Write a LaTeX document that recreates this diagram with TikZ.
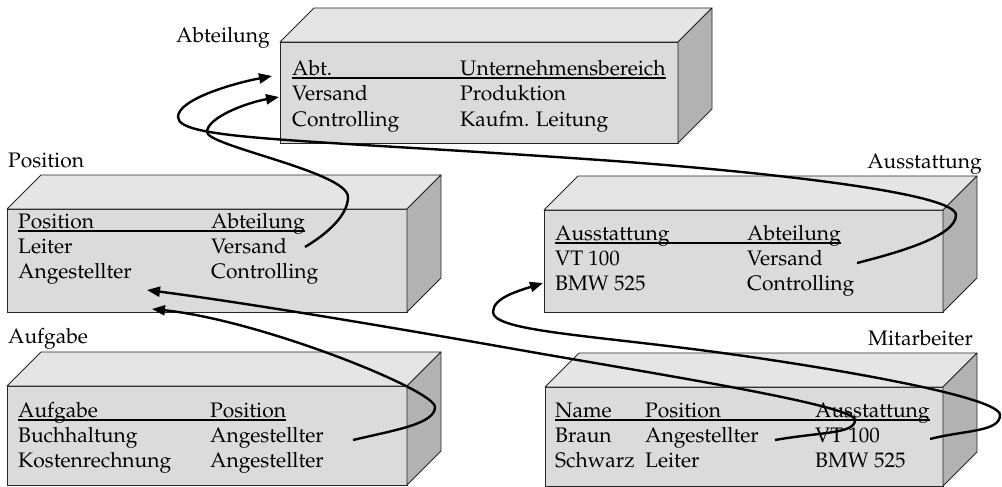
\documentclass[tikz,border=0pt]{standalone}
\usepackage[T1]{fontenc}
\usepackage{mathpazo}
\usetikzlibrary{arrows.meta}

\definecolor{vorn}{gray}{0.86}
\definecolor{deckel}{gray}{0.90}
\definecolor{flanke}{gray}{0.70}

\tikzset{
  vorne/.style={draw=black!85, line width=0.9pt, fill=vorn, anchor=north west, inner sep=0pt, outer sep=0pt},
  oben/.style={draw=black!85, line width=0.9pt, fill=deckel, line join=round},
  seite/.style={draw=black!85, line width=0.9pt, fill=flanke, line join=round},
  zelle/.style={anchor=base west, inner sep=0pt, font=\fontsize{21}{25}\selectfont},
  titel/.style={inner sep=0pt, font=\fontsize{21}{25}\selectfont},
  strich/.style={line width=2pt},
  pfeil/.style={line width=2.4pt, -{Triangle[length=13pt,width=10pt]}}
}

% Quader: Name, x, y (oben links vorne), Breite, Hoehe
\newcommand{\quader}[5]{%
  \node[vorne, minimum width=#4pt, minimum height=#5pt] (#1) at (#2,#3) {};
  \filldraw[oben] (#1.north west) -- ++(34,-34) -- ++(#4,0) -- (#1.north east) -- cycle;
  \filldraw[seite] (#1.north east) -- ++(34,-34) -- ++(0,#5) -- (#1.south east) -- cycle;
}

\begin{document}
\begin{tikzpicture}[x=1pt, y=-1pt]
\useasboundingbox (0,0) rectangle (1002,487);

% Abteilung
\quader{abt}{280}{42}{398}{101}
\node[titel, anchor=base east] (abtT) at (270,43) {Abteilung};
\node[zelle] (abt0) at (292,76) {Abt.};
\node[zelle] (abt1) at (460,76) {Unternehmensbereich};
\node[zelle] (abt2) at (292,101) {Versand};
\node[zelle] (abt3) at (460,101) {Produktion};
\node[zelle] (abt4) at (292,126) {Controlling};
\node[zelle] (abt5) at (460,126) {Kaufm. Leitung};
\draw[strich] ([yshift=-2.5pt]abt0.base west) -- ([yshift=-2.5pt]abt1.base east);

% Position
\quader{pos}{7}{209}{400}{103}
\node[titel, anchor=base west] (posT) at (8,167) {Position};
\node[zelle] (pos0) at (18,228) {Position};
\node[zelle] (pos1) at (211,228) {Abteilung};
\node[zelle] (pos2) at (18,253) {Leiter};
\node[zelle] (pos3) at (211,253) {Versand};
\node[zelle] (pos4) at (18,278) {Angestellter};
\node[zelle] (pos5) at (211,278) {Controlling};
\draw[strich] ([yshift=-2.5pt]pos0.base west) -- ([yshift=-2.5pt]pos1.base east);

% Ausstattung
\quader{aus}{544}{210}{399}{102}
\node[titel, anchor=base east] (ausT) at (982,168) {Ausstattung};
\node[zelle] (aus0) at (555,240) {Ausstattung};
\node[zelle] (aus1) at (747,240) {Abteilung};
\node[zelle] (aus2) at (555,265) {VT 100};
\node[zelle] (aus3) at (747,265) {Versand};
\node[zelle] (aus4) at (555,290) {BMW 525};
\node[zelle] (aus5) at (747,290) {Controlling};
\draw[strich] ([yshift=-2.5pt]aus0.base west) -- ([yshift=-2.5pt]aus1.base east);

% Aufgabe
\quader{auf}{7}{386}{400}{99}
\node[titel, anchor=base west] (aufT) at (8,343) {Aufgabe};
\node[zelle] (auf0) at (18,417) {Aufgabe};
\node[zelle] (auf1) at (210,417) {Position};
\node[zelle] (auf2) at (18,442) {Buchhaltung};
\node[zelle] (auf3) at (210,442) {Angestellter};
\node[zelle] (auf4) at (18,467) {Kostenrechnung};
\node[zelle] (auf5) at (210,467) {Angestellter};
\draw[strich] ([yshift=-2.5pt]auf0.base west) -- ([yshift=-2.5pt]auf1.base east);

% Mitarbeiter
\quader{mit}{545}{387}{398}{99}
\node[titel, anchor=base east] (mitT) at (973,345) {Mitarbeiter};
\node[zelle] (mit0) at (555,417) {Name};
\node[zelle] (mit1) at (645,417) {Position};
\node[zelle] (mit2) at (815,417) {Ausstattung};
\node[zelle] (mit3) at (555,442) {Braun};
\node[zelle] (mit4) at (645,442) {Angestellter};
\node[zelle] (mit5) at (815,442) {VT 100};
\node[zelle] (mit6) at (555,467) {Schwarz};
\node[zelle] (mit7) at (645,467) {Leiter};
\node[zelle] (mit8) at (815,467) {BMW 525};
\draw[strich] ([yshift=-2.5pt]mit0.base west) -- ([yshift=-2.5pt]mit2.base east);

% Fremdschluessel
\coordinate (aS) at (857,263);
\coordinate (aZ) at (272,76);
\coordinate (bS) at (305,247);
\coordinate (bZ) at (279,97);
\coordinate (cS) at (930,439);
\coordinate (cZ) at (543,283);
\coordinate (dS) at (775,440);
\coordinate (dZ) at (147,290);
\coordinate (eS) at (353,440);
\coordinate (eZ) at (152,309);

\draw[pfeil] (aS) .. controls (900,252) and (956,236) .. (956,215)
  .. controls (956,192) and (750,170.5) .. (600,160)
  .. controls (300,139) and (178,140) .. (178,117)
  .. controls (178,100) and (230,84) .. (aZ);
\draw[pfeil] (bS) .. controls (330,232) and (348,214) .. (348,197)
  .. controls (348,172) and (207,146) .. (207,132)
  .. controls (207,118) and (245,103) .. (bZ);
\draw[pfeil] (cS) .. controls (965,430) and (1000,432) .. (1000,415)
  .. controls (1000,395) and (800,362.8) .. (700,350)
  .. controls (580,334.6) and (493,330) .. (493,312)
  .. controls (493,298) and (518,291) .. (cZ);
\draw[pfeil] (dS) .. controls (820,432) and (855,434) .. (855,420)
  .. controls (855,405) and (650,373) .. (520,350)
  .. controls (390,327) and (247,303) .. (dZ);
\draw[pfeil] (eS) .. controls (395,430) and (435,424) .. (435,407)
  .. controls (435,390) and (260,320) .. (eZ);
\end{tikzpicture}
\end{document}
